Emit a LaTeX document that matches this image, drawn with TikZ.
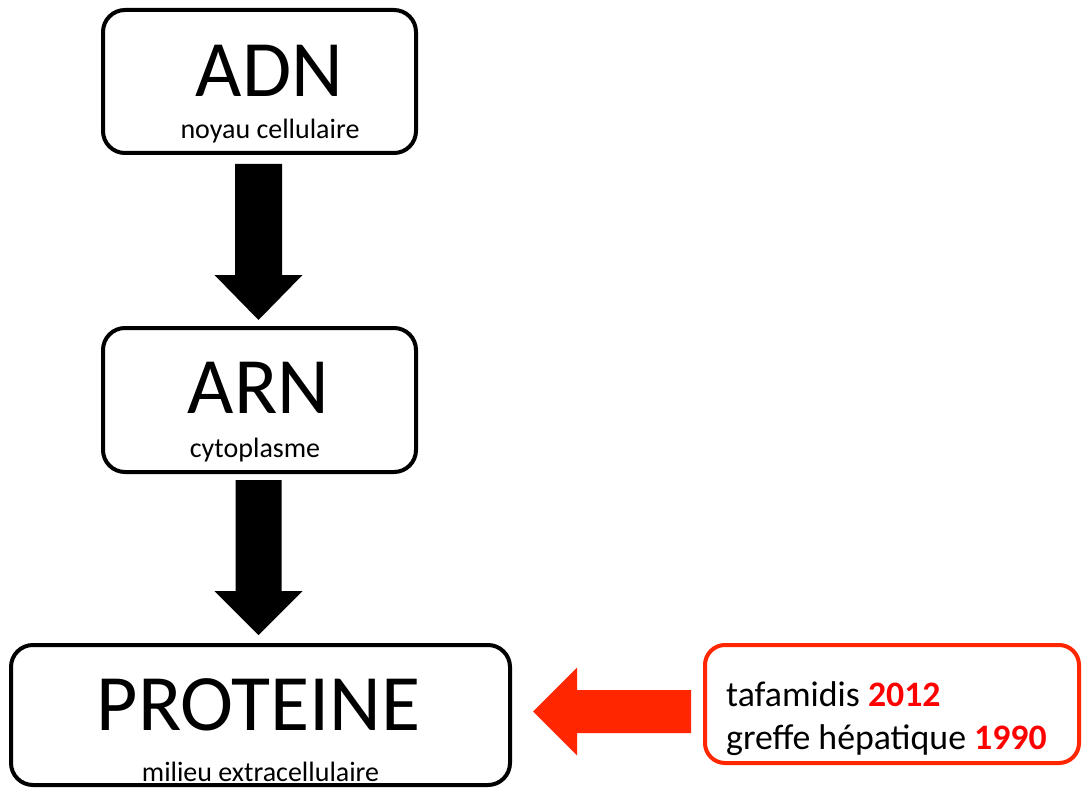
\documentclass[tikz,border=0pt]{standalone}
\usepackage{fontspec}
\setmainfont{Carlito}
\usetikzlibrary{calc}
\definecolor{arrowred}{RGB}{255,38,0}
\definecolor{yearred}{RGB}{255,0,0}
\tikzset{
  stagebox/.style={draw=black, line width=4pt, rounded corners=22pt, fill=white, inner sep=0pt},
  treatbox/.style={draw=arrowred, line width=4pt, rounded corners=20pt, fill=white, inner sep=0pt},
  bigtext/.style={anchor=base, inner sep=0pt, font=\fontsize{80}{96}\selectfont},
  smalltext/.style={anchor=base, inner sep=0pt, font=\fontsize{28}{34}\selectfont},
  treattext/.style={anchor=base west, inner sep=0pt, font=\fontsize{35.8}{43}\selectfont},
  year/.style={text=yearred, font=\bfseries}
}
\begin{document}
\begin{tikzpicture}[x=1pt, y=-1pt]
\useasboundingbox (0,0) rectangle (1082,789);
% boxes
\node[stagebox, minimum width=313pt, minimum height=143pt] (adn) at (259.5,81.5) {};
\node[stagebox, minimum width=313pt, minimum height=144pt] (arn) at (259.5,400) {};
\node[stagebox, minimum width=499pt, minimum height=140pt] (prot) at (260.5,715) {};
\node[treatbox, minimum width=374pt, minimum height=118pt] (treat) at (892,704) {};
% texts
\node[bigtext] (adnt) at (269.5,97) {ADN};
\node[smalltext] (adns) at (270,139) {noyau cellulaire};
\node[bigtext] (arnt) at (258.5,413) {ARN};
\node[smalltext] (arns) at (255,457) {cytoplasme};
\node[bigtext] (prott) at (258.5,730) {PROTEINE};
\node[smalltext] (prots) at (260.5,781) {milieu extracellulaire};
\node[treattext] (tafa) at (726,706) {tafamidis {\color{yearred}\bfseries 2012}};
\node[treattext] (greffe) at (726,749) {greffe hépatique {\color{yearred}\bfseries 1990}};
% block arrows (black)
\coordinate (a1s) at ($(adn.south)+(-1,9)$);
\coordinate (a1e) at ($(arn.north)+(-1,-6)$);
\fill[black] ($(a1s)+(-23.5,0)$) -- ($(a1s)+(23.5,0)$) -- ($(a1e)+(23.5,-45)$) -- ($(a1e)+(44,-45)$) -- (a1e) -- ($(a1e)+(-44,-45)$) -- ($(a1e)+(-23.5,-45)$) -- cycle;
\coordinate (a2s) at ($(arn.south)+(-1,6)$);
\coordinate (a2e) at ($(prot.north)+(-2,-8)$);
\fill[black] ($(a2s)+(-23,0)$) -- ($(a2s)+(23,0)$) -- ($(a2e)+(23,-44)$) -- ($(a2e)+(44,-44)$) -- (a2e) -- ($(a2e)+(-44,-44)$) -- ($(a2e)+(-23,-44)$) -- cycle;
% red block arrow
\coordinate (r1s) at ($(treat.west)+(-12,7.5)$);
\coordinate (r1e) at ($(prot.east)+(21,-3.5)$);
\fill[arrowred] ($(r1s)+(0,-21.5)$) -- ($(r1s)+(0,21.5)$) -- ($(r1e)+(44,21.5)$) -- ($(r1e)+(44,44)$) -- (r1e) -- ($(r1e)+(44,-44)$) -- ($(r1e)+(44,-21.5)$) -- cycle;
\end{tikzpicture}
\end{document}
